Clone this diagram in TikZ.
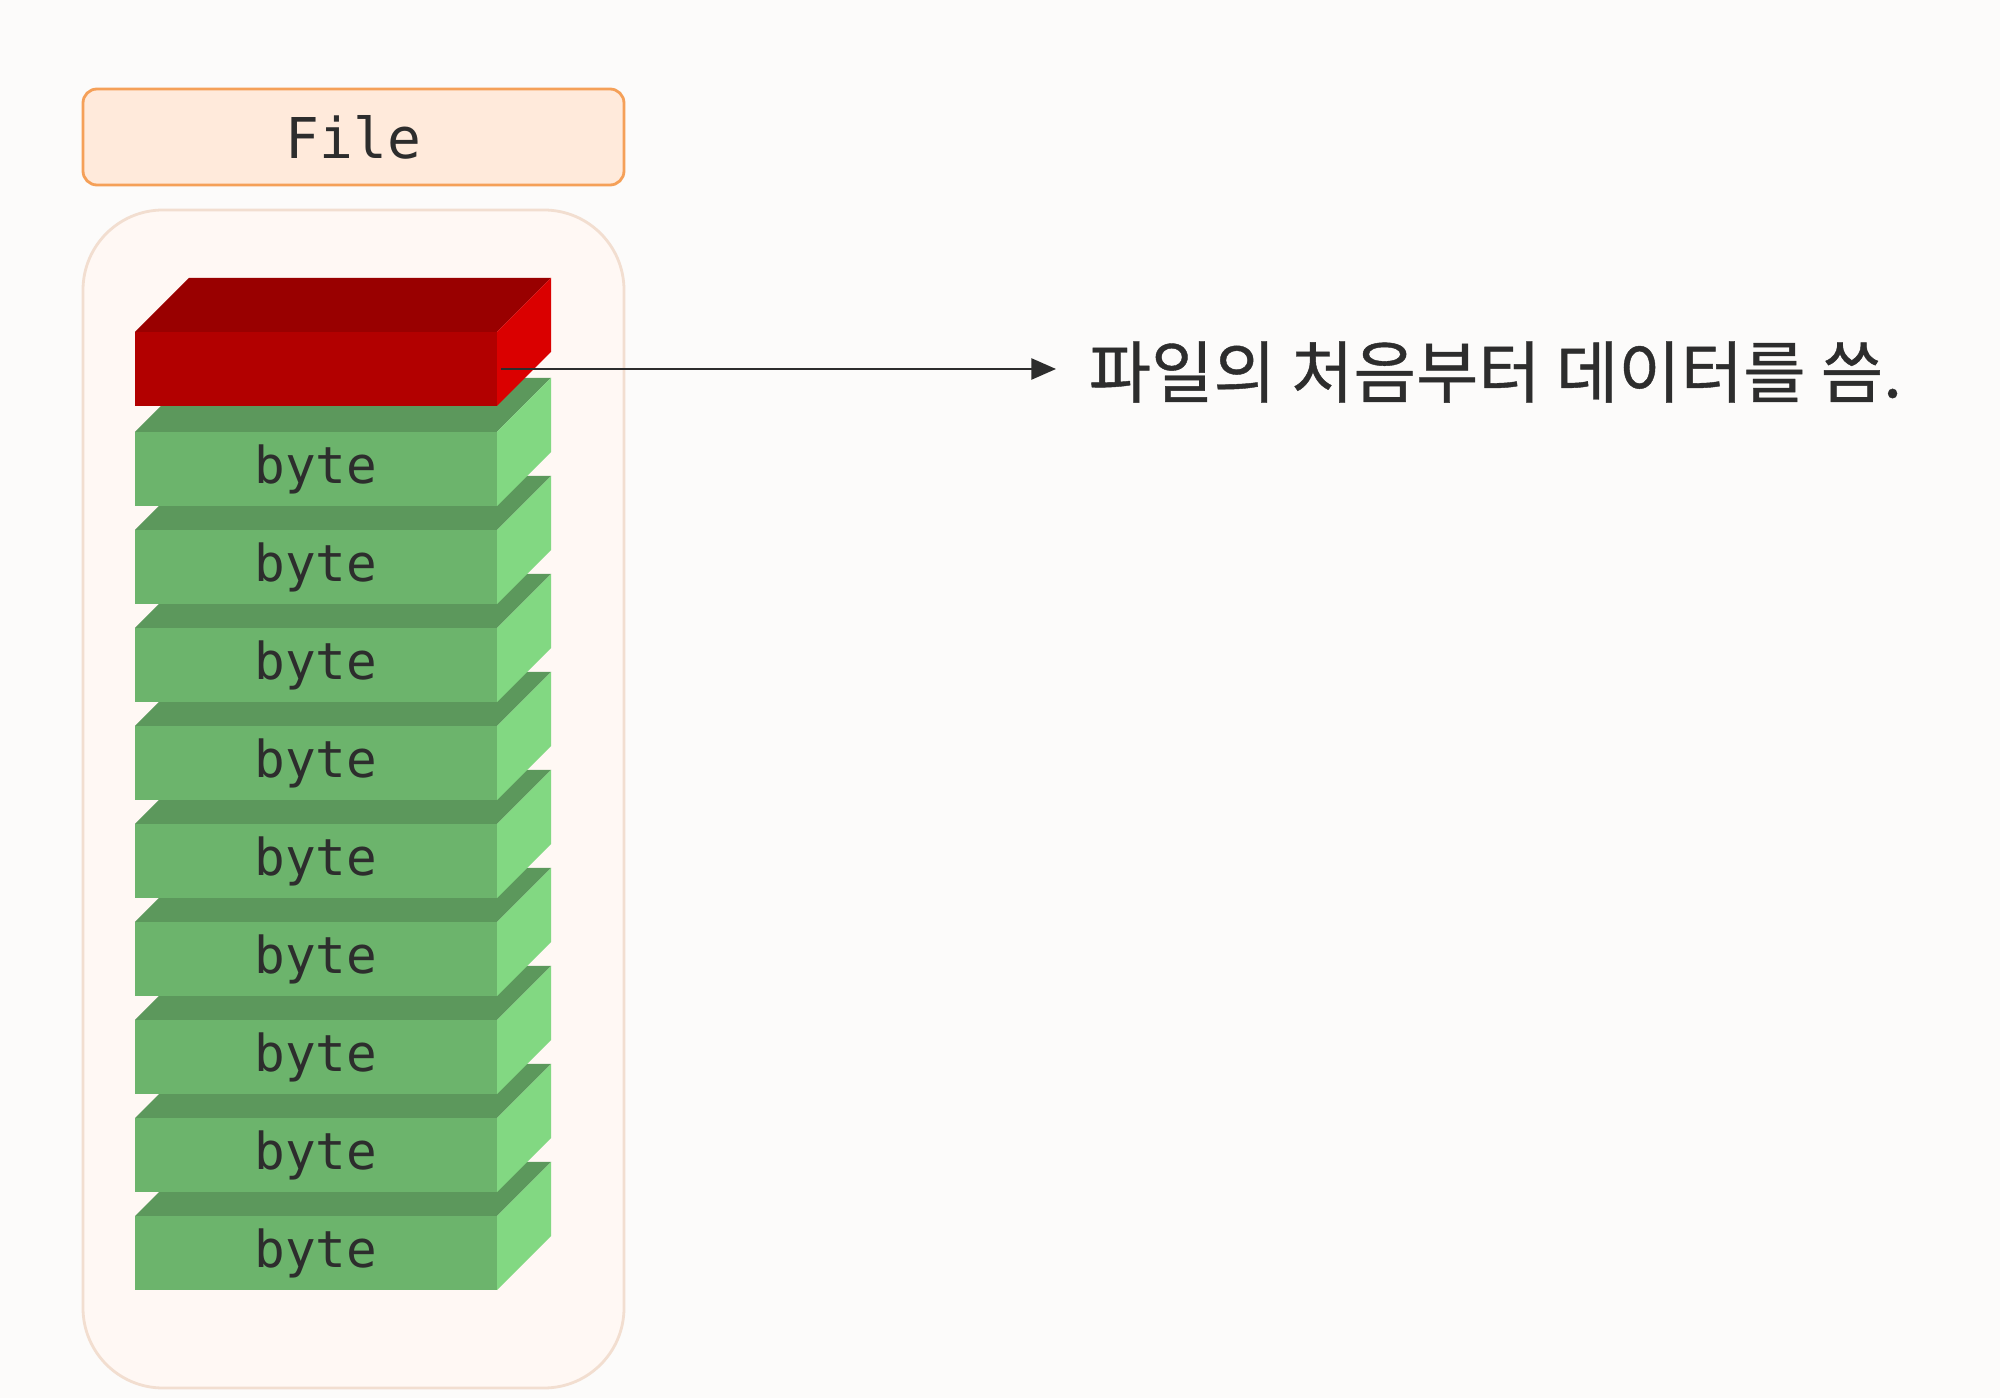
\documentclass[tikz,border=0pt]{standalone}
\usepackage{fontspec}
\usetikzlibrary{arrows.meta}
\newfontfamily\monofont{DejaVu Sans Mono}
\newfontfamily\krfont{Noto Sans CJK KR}[FakeBold=0.6]
\definecolor{bgcol}{RGB}{252,251,250}
\definecolor{hdrfill}{RGB}{255,234,219}
\definecolor{hdrline}{RGB}{245,160,88}
\definecolor{boxfill}{RGB}{255,248,244}
\definecolor{boxline}{RGB}{242,222,208}
\definecolor{redfront}{RGB}{178,0,0}
\definecolor{redtop}{RGB}{153,0,0}
\definecolor{redside}{RGB}{218,0,0}
\definecolor{grnfront}{RGB}{108,180,108}
\definecolor{grntop}{RGB}{92,152,92}
\definecolor{grnside}{RGB}{130,216,130}
\definecolor{inkcol}{RGB}{45,45,45}
\tikzset{
  front/.style={draw=none, outer sep=0pt, inner sep=0pt, minimum width=3.62cm,
    minimum height=0.74cm, font=\monofont\fontsize{14.5pt}{14.5pt}\selectfont, text=inkcol},
  arr/.style={draw=inkcol, line width=0.6pt, -{Triangle[length=7pt, width=6pt]}}
}
\begin{document}
\begin{tikzpicture}
  \fill[bgcol] (0,0) rectangle (20,-13.98);
  \useasboundingbox (0,0) rectangle (20,-13.98);
  % header and frame
  \node[draw=hdrline, fill=hdrfill, line width=0.8pt, rounded corners=0.14cm,
    minimum width=5.41cm, minimum height=0.96cm, font=\monofont\fontsize{16pt}{16pt}\selectfont,
    text=inkcol] (filehdr) at (3.535,-1.37) {File};
  \node[draw=boxline, fill=boxfill, line width=0.8pt, rounded corners=0.8cm,
    minimum width=5.41cm, minimum height=11.78cm] (frame) at (3.535,-7.99) {};
  % byte stack, bottom first
  \foreach \k in {8,...,0} {
    \node[front, fill=grnfront] (b\k) at (3.16,-4.69-0.98*\k) {byte};
    \fill[grntop] (b\k.north west) -- ++(0.54,0.54) -- ++(3.62,0) -- (b\k.north east) -- cycle;
    \fill[grnside] (b\k.north east) -- ++(0.54,0.54) -- ++(0,-0.74) -- (b\k.south east) -- cycle;
  }
  % first byte, being written
  \node[front, fill=redfront] (red) at (3.16,-3.69) {};
  \fill[redtop] (red.north west) -- ++(0.54,0.54) -- ++(3.62,0) -- (red.north east) -- cycle;
  \fill[redside] (red.north east) -- ++(0.54,0.54) -- ++(0,-0.74) -- (red.south east) -- cycle;
  % note
  \node[anchor=west, inner sep=0pt, font=\krfont\fontsize{19.3pt}{19.3pt}\selectfont, text=inkcol]
    (desc) at (10.88,-3.72) {파일의 처음부터 데이터를 씀.};
  \draw[arr, shorten >=0.32cm] ([xshift=0.04cm]red.east) -- (desc.west |- red.east);
\end{tikzpicture}
\end{document}
